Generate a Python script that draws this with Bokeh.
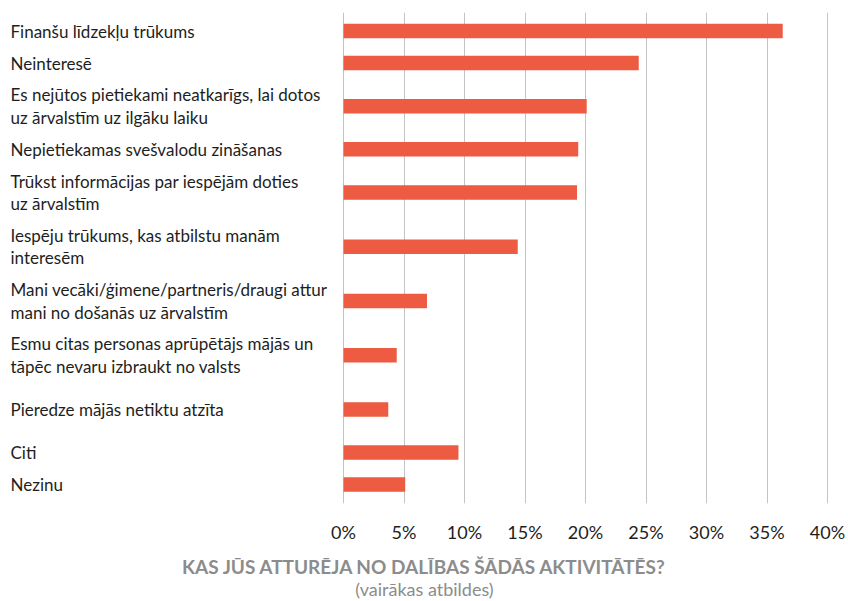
from bokeh.plotting import figure
from bokeh.models import Range1d, FixedTicker, PrintfTickFormatter, Title, ColumnDataSource
from bokeh.core.properties import value
from bokeh.embed import file_html
from bokeh.resources import INLINE

# ---- data ----
categories = [
    "Finanšu līdzekļu trūkums",
    "Neinteresē",
    "Es nejūtos pietiekami neatkarīgs, lai dotos\nuz ārvalstīm uz ilgāku laiku",
    "Nepietiekamas svešvalodu zināšanas",
    "Trūkst informācijas par iespējām doties\nuz ārvalstīm",
    "Iespēju trūkums, kas atbilstu manām\ninteresēm",
    "Mani vecāki/ģimene/partneris/draugi attur\nmani no došanās uz ārvalstīm",
    "Esmu citas personas aprūpētājs mājās un\ntāpēc nevaru izbraukt no valsts",
    "Pieredze mājās netiktu atzīta",
    "Citi",
    "Nezinu",
]
values = [36.3, 24.4, 20.1, 19.4, 19.3, 14.4, 6.9, 4.4, 3.7, 9.5, 5.1]
# number of text rows each category occupies in the layout
row_lines = [1, 1, 2, 1, 2, 2, 2, 2, 2, 1, 1]
tick_values = [0, 5, 10, 15, 20, 25, 30, 35, 40]
title_text = "KAS JŪS ATTURĒJA NO DALĪBAS ŠĀDĀS AKTIVITĀTĒS?"
subtitle_text = "(vairākas atbildes)"

# ---- layout ----
W, H = 848, 601
TOP_BORDER = 12
BOTTOM_BORDER = 98
FRAME_H = H - TOP_BORDER - BOTTOM_BORDER
X0_PX = 343.0      # x pixel of 0%
X40_PX = 827.0     # x pixel of 40%
PX_PER_PCT = (X40_PX - X0_PX) / 40.0
x_start = -X0_PX / PX_PER_PCT
x_end = 40 + (W - X40_PX) / PX_PER_PCT
label_x = -(X0_PX - 10) / PX_PER_PCT

ROW_H = {1: 32.0, 2: 54.25}
ypos = []
cur = 18.5
for i, n in enumerate(row_lines):
    if i > 0:
        cur += (ROW_H[row_lines[i - 1]] + ROW_H[n]) / 2.0
    ypos.append(cur)

src = ColumnDataSource(dict(y=ypos, v=values, label=categories,
                            lx=[label_x] * len(categories)))

p = figure(width=W, height=H, output_backend="svg", toolbar_location=None,
           x_range=Range1d(x_start, x_end), y_range=Range1d(FRAME_H, 0),
           y_axis_location=None, min_border_left=0, min_border_right=0,
           min_border_top=TOP_BORDER, min_border_bottom=BOTTOM_BORDER,
           outline_line_color=None)

p.hbar(y="y", left=0, right="v", height=14.5, source=src,
       fill_color="#ED5B42", line_color=None)

p.text(x="lx", y="y", text="label", source=src,
       text_font=value("Lato"), text_font_size="17px", text_color="#1e1e1e",
       text_baseline="middle", text_align="left", text_line_height=1.08)

ticker = FixedTicker(ticks=tick_values)
p.xgrid.ticker = ticker
p.xgrid.grid_line_color = "#c4c4c4"
p.xgrid.grid_line_width = 1
p.ygrid.visible = False

ax = p.xaxis[0]
ax.ticker = ticker
ax.formatter = PrintfTickFormatter(format="%d%%")
ax.axis_line_color = None
ax.major_tick_line_color = None
ax.minor_tick_line_color = None
ax.major_tick_out = 0
ax.major_tick_in = 0
ax.major_label_standoff = 17
ax.major_label_text_font = "Lato"
ax.major_label_text_font_size = "18px"
ax.major_label_text_color = "#1e1e1e"

t1 = Title(text=title_text, align="center", text_font="Lato", text_font_size="19px",
           text_font_style="bold", text_color="#8c8c8c", standoff=14)
t2 = Title(text=subtitle_text, align="center", text_font="Lato", text_font_size="18px",
           text_font_style="normal", text_color="#8c8c8c", standoff=-17)
p.add_layout(t1, "below")
p.add_layout(t2, "below")

open("out.html", "w").write(file_html(p, INLINE))
